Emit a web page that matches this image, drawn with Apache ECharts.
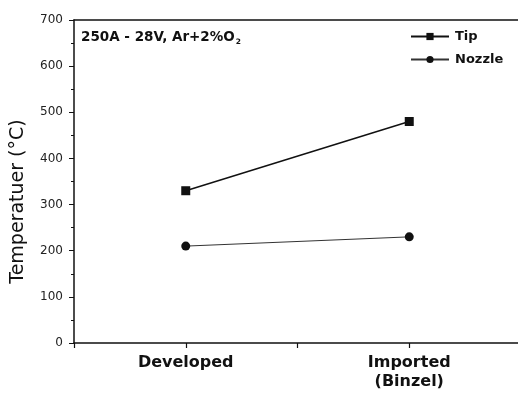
<!DOCTYPE html>
<html><head><meta charset="utf-8">
<script src="https://cdn.jsdelivr.net/npm/echarts@6/dist/echarts.min.js"></script>
<style>html,body{margin:0;padding:0;background:#fff}#c{width:518px;height:396px}</style>
</head><body><div id="c"></div>
<script>
var categories = ['Developed', 'Imported\n(Binzel)'];
var tipValues = [330, 480];
var nozzleValues = [210, 230];
var yTicks = [0, 100, 200, 300, 400, 500, 600, 700];

function toPairs(vals){ return vals.map(function(v,i){ return [i+1, v]; }); }
var font = 'DejaVu Sans, Liberation Sans, Arial, sans-serif';
var chart = echarts.init(document.getElementById('c'));
chart.setOption({
  backgroundColor: '#fff',
  animation: false,
  grid: {left: 74, right: -3, top: 20, bottom: 53, outerBoundsMode: 'none', containLabel: false},
  title: {
    text: '{a|250A - 28V, Ar+2%O}{s|2}',
    left: 81, top: 28, padding: 0,
    textStyle: {rich: {
      a: {fontFamily: font, fontSize: 13.5, fontWeight: 'bold', color: '#111'},
      s: {fontFamily: font, fontSize: 7.5, fontWeight: 'bold', color: '#111', padding: [10,0,0,1]}
    }}
  },
  legend: {
    left: 410, top: 30, padding: 0, orient: 'vertical', itemGap: 10,
    itemWidth: 38, itemHeight: 9,
    textStyle: {fontFamily: font, fontSize: 13, fontWeight: 'bold', color: '#111', padding: [0,0,0,1]},
    data: ['Tip', 'Nozzle']
  },
  xAxis: [{
    type: 'value', min: 0.5, max: 2.5, interval: 0.5,
    axisLine: {lineStyle: {color: '#111', width: 1.5}},
    axisTick: {show: true, length: 5, lineStyle: {color: '#111', width: 1.2}},
    splitLine: {show: false},
    axisLabel: {
      fontFamily: font, fontSize: 16, fontWeight: 'bold', color: '#111', margin: 10, lineHeight: 19,
      formatter: function(v){ return (Math.abs(v - Math.round(v)) < 1e-6 && categories[v-1]) ? categories[v-1] : ''; }
    }
  }, {
    type: 'value', position: 'top', min: 0.5, max: 2.5,
    axisLine: {show: true, lineStyle: {color: '#111', width: 1.5}},
    axisTick: {show: false}, axisLabel: {show: false}, splitLine: {show: false}
  }],
  yAxis: {
    type: 'value', min: 0, max: 700, interval: 100,
    name: 'Temperatuer (°C)', nameLocation: 'middle', nameGap: 46, nameRotate: 90,
    nameTextStyle: {fontFamily: font, fontSize: 19, color: '#111', padding: [0, 40, 0, 0]},
    axisLine: {show: true, lineStyle: {color: '#111', width: 1.5}},
    axisTick: {show: true, length: 5, lineStyle: {color: '#111'}},
    minorTick: {show: true, splitNumber: 2, length: 3, lineStyle: {color: '#111'}},
    splitLine: {show: false},
    axisLabel: {fontFamily: font, fontSize: 12, color: '#222', margin: 11,
      formatter: function(v){ return yTicks.indexOf(v) >= 0 ? String(v) : ''; }}
  },
  series: [{
    name: 'Tip', type: 'line', data: toPairs(tipValues),
    symbol: 'rect', symbolSize: 9,
    lineStyle: {color: '#111', width: 1.5}, itemStyle: {color: '#111'}
  }, {
    name: 'Nozzle', type: 'line', data: toPairs(nozzleValues),
    symbol: 'circle', symbolSize: 9,
    lineStyle: {color: '#333', width: 1}, itemStyle: {color: '#111'}
  }]
});
</script></body></html>
